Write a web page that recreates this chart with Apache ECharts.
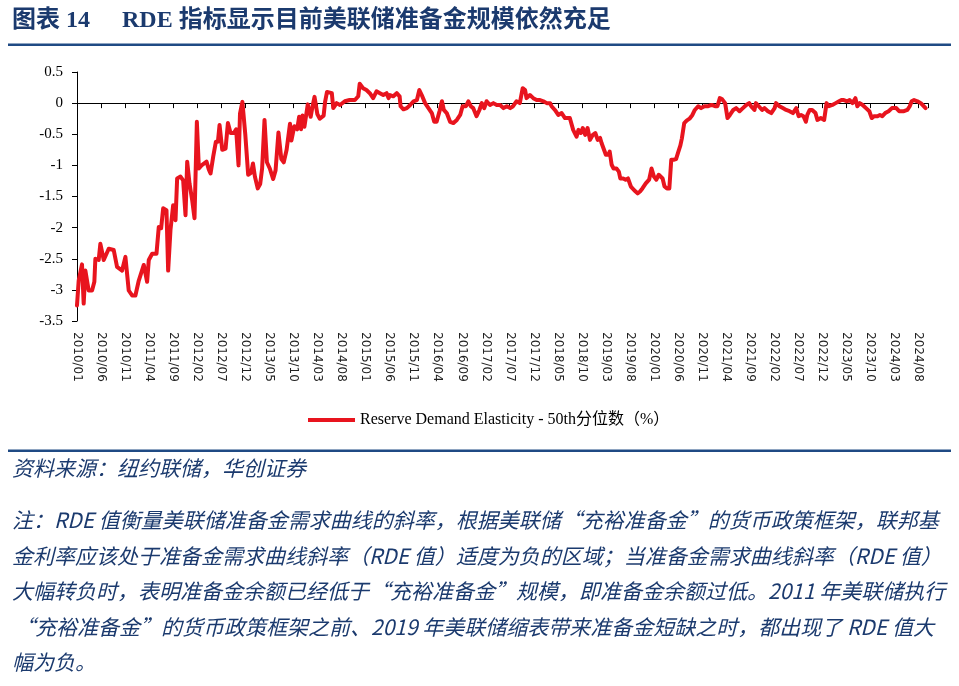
<!DOCTYPE html>
<html><head><meta charset="utf-8">
<script src="https://cdn.jsdelivr.net/npm/echarts@6/dist/echarts.min.js"></script>
<style>html,body{margin:0;padding:0;background:#fff;}#c{width:959px;height:686px;}</style>
</head><body><div id="c"></div>
<script>
// x position of each reading, in months since 2010/01
const monthIndex = [
0,0.35,1.04,1.39,1.74,2.43,3.13,3.61,3.82,4.51,4.86,5.56,6.6,7.64,8.33,9.38,10.07,10.76,11.46,12.15,
12.85,13.89,14.58,14.93,15.63,16.53,17.01,17.5,17.92,18.61,18.96,19.44,20.0,20.49,20.83,21.53,22.08,22.57,22.92,23.4,
23.96,24.44,24.93,25.35,26.04,26.94,27.43,27.78,28.33,28.89,29.31,29.65,30.21,30.9,31.39,31.94,32.6,33.1,33.6,33.9,
34.4,35.0,35.6,36.2,36.6,37.0,37.6,38.1,38.5,39.0,39.5,40.1,40.8,41.3,41.6,41.9,42.5,43.0,43.6,44.0,
44.3,44.6,45.2,45.8,46.2,46.6,46.9,47.3,48.0,48.6,49.0,49.4,50.0,50.5,50.9,51.3,51.6,52.0,52.3,53.0,
53.3,54.0,54.7,55.7,56.7,57.8,58.5,58.8,59.5,60.2,60.9,61.6,62.3,63.0,63.7,64.4,64.8,65.1,65.8,66.5,
67.1,67.3,67.9,68.6,69.3,70.0,70.7,71.2,71.7,72.4,73.1,73.8,74.3,74.8,75.4,75.9,76.3,76.9,77.6,78.3,
79.0,79.7,80.2,80.9,81.4,81.9,82.4,83.1,83.7,84.2,84.7,85.2,85.9,86.6,87.3,88.0,88.7,89.4,90.1,90.7,
91.4,92.1,92.7,93.2,93.5,94.2,94.9,95.6,96.3,97.0,97.7,98.4,98.7,99.4,100.1,100.8,101.5,102.5,103.2,103.9,
104.3,104.8,105.2,105.7,106.2,106.7,107.3,107.8,108.3,108.8,109.1,109.5,110.0,110.5,110.8,111.2,111.6,112.2,112.7,113.0,
113.6,114.1,114.6,115.2,115.9,116.6,117.1,117.6,118.3,119.0,119.5,120.0,120.5,121.0,121.4,121.8,122.2,122.7,123.2,123.6,
124.1,124.6,125.0,125.5,125.8,126.3,126.8,127.4,128.0,128.5,129.2,129.8,130.5,131.3,132.0,132.7,133.2,133.7,134.2,134.8,
135.3,135.8,136.5,137.1,137.8,138.5,139.2,139.8,140.2,140.9,141.2,141.8,142.5,143.0,143.7,144.4,145.1,145.4,146.1,146.8,
147.5,148.2,148.9,149.6,150.1,150.6,151.1,151.6,151.9,152.4,152.9,153.6,154.0,154.7,155.4,155.9,156.4,157.1,157.8,158.5,
159.0,159.5,160.2,160.7,161.3,161.9,162.3,162.8,163.4,164.1,164.8,165.3,165.8,166.5,167.0,167.5,168.1,168.8,169.5,169.9,
170.4,171.0,171.3,172.0,172.7,173.2,173.6,174.1,174.8,175.5,175.9,176.5
];
// Reserve Demand Elasticity - 50th percentile (%)
const rdeValues = [
-3.25,-2.85,-2.59,-3.22,-2.69,-3.01,-3.01,-2.87,-2.5,-2.52,-2.26,-2.52,-2.34,-2.36,-2.63,-2.69,-2.47,-3.01,-3.09,-3.09,
-2.85,-2.6,-2.87,-2.52,-2.42,-2.42,-1.99,-2.01,-1.69,-1.72,-2.69,-2.04,-1.64,-1.88,-1.21,-1.18,-1.24,-1.8,-0.94,-1.29,
-1.56,-1.85,-0.3,-1.05,-0.99,-0.94,-1.07,-1.13,-0.86,-0.62,-0.62,-0.35,-0.75,-0.73,-0.32,-0.48,-0.48,-0.42,-1.0,-0.17,
0.02,-0.5,-1.15,-1.12,-0.97,-1.18,-1.37,-1.3,-1.05,-0.27,-0.95,-1.05,-1.22,-1.08,-1.05,-0.47,-0.9,-0.95,-0.75,-0.72,
-0.33,-0.6,-0.37,-0.42,-0.22,-0.42,-0.2,-0.38,-0.02,-0.22,-0.05,0.1,-0.18,-0.25,-0.27,-0.2,0.02,0.18,0.19,0.16,
-0.08,0.0,-0.03,0.03,0.05,0.05,0.11,0.31,0.24,0.21,0.16,0.08,0.19,0.16,0.13,0.16,0.08,0.13,0.11,0.16,
0.11,-0.05,-0.1,-0.08,-0.03,0.03,0.05,0.21,0.13,0.0,-0.08,-0.16,-0.3,-0.3,-0.13,0.03,-0.11,-0.16,-0.3,-0.32,
-0.27,-0.19,-0.05,-0.05,0.03,-0.05,-0.08,-0.21,-0.11,0.0,-0.08,0.03,-0.03,0.0,-0.03,-0.03,-0.08,-0.05,-0.08,-0.05,
0.03,0.0,0.24,0.21,0.08,0.13,0.08,0.05,0.05,0.03,0.0,0.0,-0.05,-0.11,-0.19,-0.16,-0.24,-0.24,-0.43,-0.54,
-0.43,-0.48,-0.4,-0.51,-0.4,-0.59,-0.51,-0.48,-0.59,-0.56,-0.64,-0.62,-0.83,-0.83,-0.78,-0.99,-1.05,-1.05,-1.1,-1.21,
-1.21,-1.23,-1.21,-1.34,-1.4,-1.45,-1.42,-1.37,-1.29,-1.23,-1.05,-1.18,-1.23,-1.15,-1.13,-1.21,-1.34,-1.37,-1.37,-0.91,
-0.91,-0.9,-0.8,-0.68,-0.57,-0.32,-0.28,-0.25,-0.19,-0.11,-0.05,-0.08,-0.05,-0.05,-0.03,-0.05,-0.05,0.08,0.06,0.0,
-0.24,-0.19,-0.11,-0.08,-0.13,-0.08,-0.03,0.0,-0.05,-0.11,0.0,-0.05,-0.11,-0.08,-0.13,-0.16,-0.08,0.0,-0.05,-0.08,
-0.11,-0.13,-0.16,-0.08,-0.21,-0.19,-0.21,-0.3,-0.19,-0.11,-0.11,-0.16,-0.27,-0.24,-0.27,0.0,-0.05,-0.03,0.0,0.03,
0.05,0.05,0.03,0.05,0.0,0.08,-0.05,0.0,-0.03,-0.08,-0.13,-0.24,-0.21,-0.21,-0.19,-0.21,-0.16,-0.13,-0.08,-0.05,
-0.08,-0.13,-0.16,-0.13,-0.11,-0.05,0.03,0.05,0.03,0.0,-0.03,-0.08
];
const xTickLabels = [
'2010/01','2010/06','2010/11','2011/04','2011/09','2012/02','2012/07','2012/12','2013/05','2013/10',
'2014/03','2014/08','2015/01','2015/06','2015/11','2016/04','2016/09','2017/02','2017/07','2017/12',
'2018/05','2018/10','2019/03','2019/08','2020/01','2020/06','2020/11','2021/04','2021/09','2022/02',
'2022/07','2022/12','2023/05','2023/10','2024/03','2024/08'
];
const seriesName = 'Reserve Demand Elasticity - 50th分位数（%）';
const titleLeft = '图表 14';
const titleRight = 'RDE 指标显示目前美联储准备金规模依然充足';
const sourceText = '资料来源：纽约联储，华创证券';
const noteLines = [
'注：RDE 值衡量美联储准备金需求曲线的斜率，根据美联储“充裕准备金”的货币政策框架，联邦基',
'金利率应该处于准备金需求曲线斜率（RDE 值）适度为负的区域；当准备金需求曲线斜率（RDE 值）',
'大幅转负时，表明准备金余额已经低于“充裕准备金”规模，即准备金余额过低。2011 年美联储执行',
'“充裕准备金”的货币政策框架之前、2019 年美联储缩表带来准备金短缺之时，都出现了 RDE 值大',
'幅为负。'
];

const chart = echarts.init(document.getElementById('c'), null, {renderer:'canvas'});
const navy = '#1B3A6E';
const serifCJK = "'Liberation Serif','Noto Sans CJK SC',serif";
const cjk = "'Noto Sans CJK SC','Liberation Serif',sans-serif";
const noteY = [520, 556, 591, 627, 662];

const graphics = [
  {type:'text', x:12, y:21, style:{text:titleLeft, fill:navy, font:"bold 24px " + serifCJK, verticalAlign:'middle'}},
  {type:'text', x:122, y:21, style:{text:titleRight, fill:navy, font:"bold 24px " + serifCJK, verticalAlign:'middle'}},
  {type:'rect', shape:{x:8, y:43.5, width:943, height:2.5}, style:{fill:'#1F4A84'}},
  {type:'rect', shape:{x:8, y:449.5, width:943, height:2.5}, style:{fill:'#1F4A84'}},
  {type:'text', x:12, y:468, style:{text:sourceText, fill:navy, font:"italic 21px " + cjk, verticalAlign:'middle'}}
];
noteLines.forEach((t, i) => {
  graphics.push({type:'text', x: i === 3 ? 14 : 12, y: noteY[i], style:{text:t, fill:navy, font:"italic 21px " + cjk, verticalAlign:'middle'}});
});

const xCommon = {type:'value', min:0, max:177, interval:5, splitLine:{show:false}};

chart.setOption({
  animation:false,
  backgroundColor:'#fff',
  grid:{left:77, right:31, top:72, bottom:365, containLabel:false},
  legend:{
    left:303, top:407, icon:'rect', itemWidth:47, itemHeight:4, itemGap:10,
    textStyle:{fontFamily:serifCJK, fontSize:16, color:'#000'},
    data:[seriesName]
  },
  xAxis:[
    Object.assign({}, xCommon, {
      position:'bottom',
      axisLine:{show:false, onZero:false},
      axisTick:{show:false},
      axisLabel:{
        rotate:-90, margin:11, color:'#222', fontFamily:"'DejaVu Sans',sans-serif", fontSize:12,
        showMaxLabel:false,
        formatter:(v) => (v % 5 === 0 && xTickLabels[v/5]) ? xTickLabels[v/5] : ''
      }
    }),
    Object.assign({}, xCommon, {
      position:'bottom',
      axisLine:{show:true, onZero:true, lineStyle:{color:'#000', width:1}},
      axisTick:{show:true, inside:false, length:5, lineStyle:{color:'#000'}},
      axisLabel:{show:false}
    })
  ],
  yAxis:{
    type:'value', min:-3.5, max:0.5, interval:0.5,
    axisLine:{show:true, onZero:false, lineStyle:{color:'#000', width:1}},
    axisTick:{show:true, inside:false, length:5, lineStyle:{color:'#000'}},
    splitLine:{show:false},
    axisLabel:{margin:14, color:'#000', fontFamily:serifCJK, fontSize:15}
  },
  series:[{
    name:seriesName, type:'line', xAxisIndex:0, yAxisIndex:0,
    showSymbol:false, symbol:'none', smooth:false,
    color:'#E8141E',
    lineStyle:{width:4, color:'#E8141E', join:'round', cap:'round'},
    data: monthIndex.map((m, i) => [m, rdeValues[i]]),
    z:3
  }],
  graphic: graphics
});
</script>
</body></html>
